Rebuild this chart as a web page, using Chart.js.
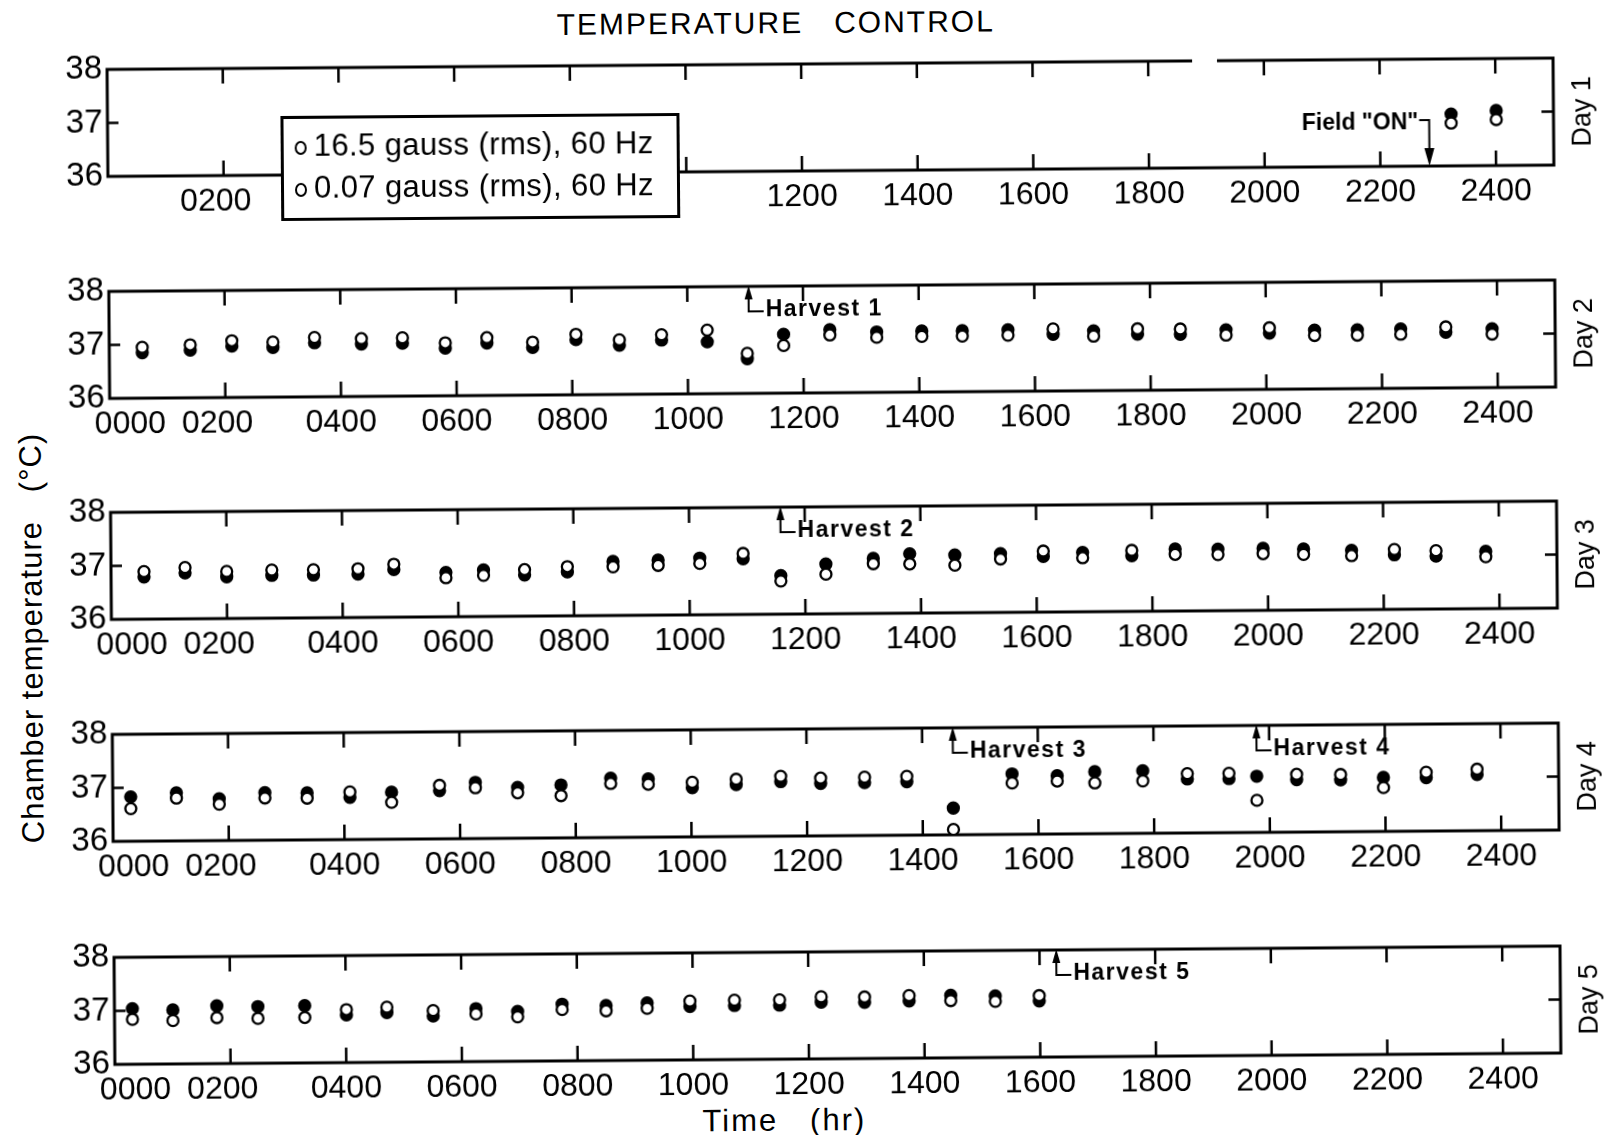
<!DOCTYPE html>
<html>
<head>
<meta charset="utf-8">
<title>Temperature control</title>
<script src="https://cdn.jsdelivr.net/npm/chart.js@4.4.1/dist/chart.umd.min.js"></script>
<style>
  html, body { margin: 0; padding: 0; background: #fff; }
  body { width: 1604px; height: 1135px; overflow: hidden; }
  /* the scanned figure is a little tilted, so the whole sheet is turned the same way */
  #page { position: relative; width: 1604px; height: 1135px; transform: rotate(-0.45deg); transform-origin: 802px 567px; font-family: "Liberation Sans", Arial, sans-serif; color: #000; }
  #page canvas { position: absolute; left: 0; }
  .txt { position: absolute; white-space: pre; transform: translate(-50%, -50%); line-height: 1; }
  #title { left: 780px; top: 23px; font-size: 30px; letter-spacing: 2px; }
  #ytitle { left: 31px; top: 632px; font-size: 31px; letter-spacing: 1px; transform: translate(-50%, -50%) rotate(-90deg); }
  #xtitle { left: 780px; top: 1120px; font-size: 31px; letter-spacing: 2px; }
  #legend { position: absolute; left: 284px; top: 112px; width: 399px; height: 105px; box-sizing: border-box; border: 3px solid #000; background: #fff; }
  #legend .row { position: absolute; left: 0; font-size: 31px; line-height: 36px; white-space: pre; letter-spacing: 0.4px; }
  #legend .mk { position: absolute; left: 11px; top: 13px; width: 8px; height: 10px; border: 2px solid #000; border-radius: 50%; }
  #legend .lb { position: absolute; left: 30px; top: 0; }
</style>
</head>
<body>
<div id="page">
  <div id="title" class="txt">TEMPERATURE   CONTROL</div>
  <div id="ytitle" class="txt">Chamber temperature   (°C)</div>
  <div id="xtitle" class="txt">Time   (hr)</div>
</div>
<script>
// time of day in hours, chamber temperature in °C
const day1Hours = [23.23, 24.01];
const day1Open = [36.80, 36.86];
const day1Filled = [36.97, 37.03];

const day2Hours = [0.57, 1.40, 2.12, 2.83, 3.55, 4.36, 5.07, 5.81, 6.53, 7.32, 8.07, 8.82, 9.55, 10.34, 11.03, 11.66,
  12.46, 13.27, 14.05, 14.75, 15.54, 16.32, 17.02, 17.78, 18.52, 19.31, 20.06, 20.84, 21.58, 22.33, 23.11, 23.91];
const day2Open = [36.95, 36.99, 37.06, 37.03, 37.11, 37.08, 37.09, 36.99, 37.08, 36.99, 37.13, 37.02, 37.11, 37.19, 36.75, 36.89,
  37.08, 37.03, 37.04, 37.04, 37.05, 37.16, 37.02, 37.15, 37.14, 37.02, 37.15, 37.00, 37.00, 37.01, 37.14, 37.00];
const day2Filled = [36.85, 36.89, 36.96, 36.93, 37.01, 36.98, 36.99, 36.89, 36.98, 36.89, 37.03, 36.92, 37.01, 36.97, 36.65, 37.10,
  37.18, 37.13, 37.14, 37.14, 37.15, 37.06, 37.12, 37.05, 37.04, 37.12, 37.05, 37.10, 37.10, 37.11, 37.04, 37.10];

const day3Hours = [0.57, 1.28, 2.00, 2.78, 3.50, 4.27, 4.89, 5.79, 6.44, 7.15, 7.89, 8.68, 9.46, 10.18, 10.93, 11.58,
  12.36, 13.18, 13.81, 14.59, 15.38, 16.12, 16.80, 17.65, 18.40, 19.14, 19.92, 20.62, 21.45, 22.19, 22.91, 23.77];
const day3Open = [36.89, 36.96, 36.88, 36.90, 36.90, 36.91, 36.99, 36.73, 36.77, 36.87, 36.92, 36.91, 36.93, 36.96, 37.14, 36.62,
  36.74, 36.93, 36.92, 36.89, 37.00, 37.14, 37.01, 37.14, 37.06, 37.05, 37.06, 37.04, 37.01, 37.12, 37.09, 36.97];
const day3Filled = [36.79, 36.86, 36.78, 36.80, 36.80, 36.81, 36.89, 36.83, 36.87, 36.77, 36.82, 37.01, 37.03, 37.06, 37.04, 36.72,
  36.93, 37.03, 37.11, 37.08, 37.10, 37.04, 37.11, 37.04, 37.16, 37.15, 37.16, 37.14, 37.11, 37.02, 36.99, 37.07];

const day4Hours = [0.31, 1.10, 1.84, 2.63, 3.36, 4.10, 4.82, 5.65, 6.27, 7.00, 7.75, 8.61, 9.26, 10.02, 10.78, 11.55,
  12.24, 13.00, 13.73, 14.53, 15.55, 16.33, 16.98, 17.81, 18.58, 19.30, 19.78, 20.47, 21.23, 21.97, 22.71, 23.59];
const day4Open = [36.61, 36.80, 36.68, 36.79, 36.78, 36.89, 36.69, 37.00, 36.95, 36.85, 36.79, 37.01, 36.99, 37.02, 37.07, 37.12,
  37.08, 37.09, 37.10, 36.10, 36.96, 36.99, 36.95, 36.98, 37.11, 37.11, 36.60, 37.08, 37.07, 36.82, 37.10, 37.15];
const day4Filled = [36.83, 36.90, 36.78, 36.89, 36.88, 36.79, 36.88, 36.90, 37.05, 36.95, 36.99, 37.11, 37.09, 36.92, 36.97, 37.02,
  36.98, 36.99, 37.00, 36.50, 37.13, 37.09, 37.16, 37.17, 37.01, 37.01, 37.05, 36.98, 36.97, 37.01, 37.00, 37.05];

const day5Hours = [0.31, 1.01, 1.77, 2.48, 3.29, 4.01, 4.71, 5.51, 6.25, 6.97, 7.74, 8.50, 9.21, 9.95, 10.72, 11.50,
  12.22, 12.97, 13.74, 14.46, 15.23, 15.99];
const day5Open = [36.84, 36.81, 36.86, 36.84, 36.85, 36.99, 37.03, 36.96, 36.89, 36.83, 36.96, 36.93, 36.97, 37.10, 37.11, 37.11,
  37.16, 37.15, 37.17, 37.07, 37.05, 37.15];
const day5Filled = [37.04, 37.01, 37.08, 37.06, 37.07, 36.89, 36.93, 36.86, 36.99, 36.93, 37.06, 37.03, 37.07, 37.00, 37.01, 37.01,
  37.06, 37.05, 37.07, 37.17, 37.15, 37.05];

const seriesLabels = ['16.5 gauss (rms), 60 Hz', '0.07 gauss (rms), 60 Hz'];
const dayLabels = ['Day 1', 'Day 2', 'Day 3', 'Day 4', 'Day 5'];

const xTickValues = [0, 2, 4, 6, 8, 10, 12, 14, 16, 18, 20, 22, 24];
const xTickLabels = ['\u2002\u2002 0000', '0200\u2002', '0400', '0600', '0800', '1000', '1200', '1400', '1600', '1800', '2000', '2200', '2400'];
const xTickLabelsDay1 = ['', '0200\u2002', '', '', '', '', '1200', '1400', '1600', '1800', '2000', '2200', '2400'];
const yTickValues = [36, 36.5, 37, 37.5, 38];
const yTickLabels = ['36', '', '37', '', '38'];

const harvestHours = [11.06, 11.58, 14.53, 19.78, 16.29];
const harvestLabels = ['Harvest 1', 'Harvest 2', 'Harvest 3', 'Harvest 4', 'Harvest 5'];
const harvestDay = [2, 3, 4, 4, 5];
const fieldOnHour = 22.85;

const FONT = '"Liberation Sans", Arial, sans-serif';
const panelTop = [64, 286, 507, 729, 952];
const PAD_TOP = 30, PLOT_H = 107, AXIS_H = 56;

// frame, inward ticks, day label and harvest arrows
const decor = {
  id: 'decor',
  beforeDatasetsDraw(chart, args, opts) {
    const { ctx, chartArea: a, scales: { x, y } } = chart;
    ctx.save();
    ctx.strokeStyle = '#000';
    ctx.lineWidth = 3;
    ctx.beginPath();
    if (opts.gap) {
      ctx.moveTo(a.left - 1.5, a.top);
      ctx.lineTo(x.getPixelForValue(opts.gap[0]), a.top);
      ctx.moveTo(x.getPixelForValue(opts.gap[1]), a.top);
      ctx.lineTo(a.right + 1.5, a.top);
    } else {
      ctx.moveTo(a.left - 1.5, a.top);
      ctx.lineTo(a.right + 1.5, a.top);
    }
    ctx.moveTo(a.right, a.top);
    ctx.lineTo(a.right, a.bottom);
    ctx.moveTo(a.right + 1.5, a.bottom);
    ctx.lineTo(a.left - 1.5, a.bottom);
    ctx.moveTo(a.left, a.bottom);
    ctx.lineTo(a.left, a.top);
    ctx.stroke();

    ctx.lineWidth = 2.5;
    ctx.beginPath();
    x.ticks.forEach(t => {
      if (t.value <= x.min || t.value >= x.max) return;
      const px = x.getPixelForValue(t.value);
      ctx.moveTo(px, a.top);
      ctx.lineTo(px, a.top + 15);
      ctx.moveTo(px, a.bottom);
      ctx.lineTo(px, a.bottom - 15);
    });
    y.ticks.forEach(t => {
      if (t.value <= y.min || t.value >= y.max) return;
      const py = y.getPixelForValue(t.value);
      ctx.moveTo(a.left, py);
      ctx.lineTo(a.left + 11, py);
      ctx.moveTo(a.right, py);
      ctx.lineTo(a.right - 12, py);
    });
    ctx.stroke();
    ctx.restore();
  },
  afterDraw(chart, args, opts) {
    const { ctx, chartArea: a, scales: { x } } = chart;
    ctx.save();
    ctx.fillStyle = '#000';
    ctx.strokeStyle = '#000';

    ctx.save();
    ctx.translate(1587, (a.top + a.bottom) / 2);
    ctx.rotate(-Math.PI / 2);
    ctx.font = '27px ' + FONT;
    ctx.textAlign = 'center';
    ctx.textBaseline = 'middle';
    ctx.fillText(opts.day, 0, 0);
    ctx.restore();

    ctx.lineWidth = 2;
    (opts.harvests || []).forEach(hv => {
      const px = x.getPixelForValue(hv.hour);
      ctx.beginPath();
      ctx.moveTo(px, a.top + 8);
      ctx.lineTo(px, a.top + 25);
      ctx.lineTo(px + 15, a.top + 25);
      ctx.stroke();
      ctx.beginPath();
      ctx.moveTo(px, a.top - 1);
      ctx.lineTo(px - 4, a.top + 13);
      ctx.lineTo(px + 4, a.top + 13);
      ctx.closePath();
      ctx.fill();
      ctx.font = 'bold 23px ' + FONT;
      ctx.letterSpacing = '1.5px';
      ctx.textAlign = 'left';
      ctx.textBaseline = 'middle';
      ctx.fillText(hv.label, px + 17, a.top + 24);
      ctx.letterSpacing = '0px';
    });

    if (opts.fieldOn != null) {
      const px = x.getPixelForValue(opts.fieldOn);
      ctx.beginPath();
      ctx.moveTo(px - 10, a.bottom - 46);
      ctx.lineTo(px, a.bottom - 46);
      ctx.lineTo(px, a.bottom - 16);
      ctx.stroke();
      ctx.beginPath();
      ctx.moveTo(px, a.bottom);
      ctx.lineTo(px - 5, a.bottom - 18);
      ctx.lineTo(px + 5, a.bottom - 18);
      ctx.closePath();
      ctx.fill();
      ctx.font = 'bold 23px ' + FONT;
      ctx.textAlign = 'right';
      ctx.textBaseline = 'middle';
      ctx.fillText('Field "ON"', px - 11, a.bottom - 43);
    }
    ctx.restore();
  }
};

const pointsOf = (hours, temps) => hours.map((h, i) => ({ x: h, y: temps[i] }));

function makePanel(i, hours, open, filled, tickLabels, extra) {
  const canvas = document.createElement('canvas');
  canvas.width = 1604;
  canvas.height = PAD_TOP + PLOT_H + AXIS_H;
  canvas.style.top = (panelTop[i] - PAD_TOP) + 'px';
  document.getElementById('page').appendChild(canvas);

  new Chart(canvas.getContext('2d'), {
    type: 'scatter',
    data: {
      datasets: [
        {
          label: seriesLabels[0],
          data: pointsOf(hours, open),
          pointRadius: 5.5,
          pointBorderWidth: 2.3,
          pointBackgroundColor: '#fff',
          pointBorderColor: '#000'
        },
        {
          label: seriesLabels[1],
          data: pointsOf(hours, filled),
          pointRadius: 5.5,
          pointBorderWidth: 2.3,
          pointBackgroundColor: '#000',
          pointBorderColor: '#000'
        }
      ]
    },
    options: {
      responsive: false,
      animation: false,
      devicePixelRatio: 1,
      events: [],
      layout: { padding: { top: PAD_TOP, right: 47, left: 0, bottom: 0 } },
      plugins: {
        legend: { display: false },
        tooltip: { enabled: false },
        decor: Object.assign({ day: dayLabels[i] }, extra)
      },
      scales: {
        x: {
          type: 'linear',
          min: 0,
          max: 25,
          grid: { display: false, drawTicks: false },
          border: { display: false },
          afterBuildTicks: s => { s.ticks = xTickValues.map(v => ({ value: v })); },
          afterFit: s => { s.height = AXIS_H; },
          ticks: {
            autoSkip: false,
            maxRotation: 0,
            padding: 7,
            color: '#000',
            font: { family: FONT, size: 32 },
            callback: (v, idx) => tickLabels[idx]
          }
        },
        y: {
          min: 36,
          max: 38,
          grid: { display: false, drawTicks: false },
          border: { display: false },
          afterBuildTicks: s => { s.ticks = yTickValues.map(v => ({ value: v })); },
          afterFit: s => { s.width = 111; },
          ticks: {
            padding: 5,
            color: '#000',
            font: { family: FONT, size: 33 },
            callback: (v, idx) => yTickLabels[idx]
          }
        }
      }
    },
    plugins: [decor]
  });
}

const harvestsFor = day => harvestHours
  .map((h, k) => ({ hour: h, label: harvestLabels[k], day: harvestDay[k] }))
  .filter(hv => hv.day === day);

makePanel(0, day1Hours, day1Open, day1Filled, xTickLabelsDay1, { fieldOn: fieldOnHour, gap: [18.76, 19.19] });
makePanel(1, day2Hours, day2Open, day2Filled, xTickLabels, { harvests: harvestsFor(2) });
makePanel(2, day3Hours, day3Open, day3Filled, xTickLabels, { harvests: harvestsFor(3) });
makePanel(3, day4Hours, day4Open, day4Filled, xTickLabels, { harvests: harvestsFor(4) });
makePanel(4, day5Hours, day5Open, day5Filled, xTickLabels, { harvests: harvestsFor(5) });

// legend box sits over the first panel's lower axis, as in the figure
const legend = document.createElement('div');
legend.id = 'legend';
seriesLabels.forEach((txt, k) => {
  const row = document.createElement('div');
  row.className = 'row';
  row.style.top = (k === 0 ? 9 : 51) + 'px';
  row.style.width = '100%';
  row.innerHTML = '<span class="mk"></span><span class="lb"></span>';
  row.querySelector('.lb').textContent = txt;
  legend.appendChild(row);
});
document.getElementById('page').appendChild(legend);
</script>
</body>
</html>
